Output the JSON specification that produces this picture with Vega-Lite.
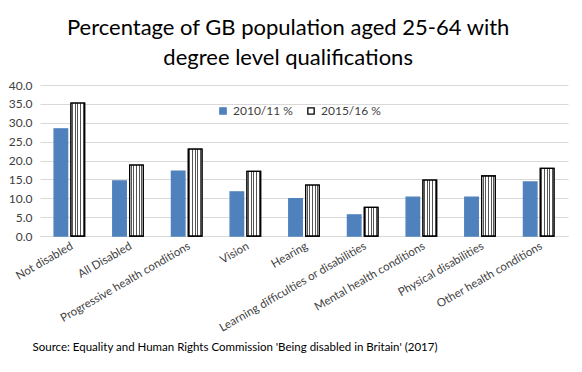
{
  "$schema": "https://vega.github.io/schema/vega-lite/v6.json",
  "autosize": "none",
  "width": 528,
  "height": 151,
  "padding": {"left": 40, "top": 85, "right": 14, "bottom": 136},
  "background": "white",
  "config": {
    "font": "Lato",
    "view": {"stroke": null}
  },
  "title": {
    "text": ["Percentage of GB population aged 25-64 with", "degree level qualifications"],
    "font": "Lato",
    "fontSize": 22,
    "fontWeight": "normal",
    "color": "black",
    "anchor": "middle",
    "frame": "bounds",
    "lineHeight": 30,
    "offset": 9
  },
  "data": {
    "values": [
      {"cat": "Not disabled", "year": "2010/11 %", "v": 28.4},
      {"cat": "Not disabled", "year": "2015/16 %", "v": 35.2},
      {"cat": "All Disabled", "year": "2010/11 %", "v": 14.6},
      {"cat": "All Disabled", "year": "2015/16 %", "v": 18.8},
      {"cat": "Progressive health conditions", "year": "2010/11 %", "v": 17.2},
      {"cat": "Progressive health conditions", "year": "2015/16 %", "v": 23.0},
      {"cat": "Vision", "year": "2010/11 %", "v": 11.7},
      {"cat": "Vision", "year": "2015/16 %", "v": 17.1},
      {"cat": "Hearing", "year": "2010/11 %", "v": 9.9},
      {"cat": "Hearing", "year": "2015/16 %", "v": 13.5},
      {"cat": "Learning difficulties or disabilities", "year": "2010/11 %", "v": 5.6},
      {"cat": "Learning difficulties or disabilities", "year": "2015/16 %", "v": 7.6},
      {"cat": "Mental health conditions", "year": "2010/11 %", "v": 10.3},
      {"cat": "Mental health conditions", "year": "2015/16 %", "v": 14.8},
      {"cat": "Physical disabilities", "year": "2010/11 %", "v": 10.3},
      {"cat": "Physical disabilities", "year": "2015/16 %", "v": 15.9},
      {"cat": "Other health conditions", "year": "2010/11 %", "v": 14.3},
      {"cat": "Other health conditions", "year": "2015/16 %", "v": 17.9}
    ]
  },
  "encoding": {
    "x": {
      "field": "cat",
      "type": "nominal",
      "sort": null,
      "scale": {"paddingInner": 0.48, "paddingOuter": 0.24},
      "axis": {
        "title": "Source: Equality and Human Rights Commission 'Being disabled in Britain' (2017)",
        "titleFont": "Lato",
        "titleFontSize": 11.5,
        "titleFontWeight": "normal",
        "titleColor": "black",
        "titleAnchor": "start",
        "titleAlign": "left",
        "titleBaseline": "top",
        "titleX": -8,
        "titleY": 105,
        "labelAngle": -30,
        "labelFontSize": 11.5,
        "labelColor": "#404040",
        "labelPadding": 4,
        "labelLimit": 400,
        "ticks": false,
        "domainColor": "#d9d9d9",
        "domainWidth": 1,
        "grid": false
      }
    },
    "xOffset": {
      "field": "year",
      "type": "nominal",
      "scale": {"paddingInner": 0.2}
    },
    "y": {
      "field": "v",
      "type": "quantitative",
      "scale": {"domain": [0, 40], "nice": false},
      "axis": {
        "title": null,
        "values": [0, 5, 10, 15, 20, 25, 30, 35, 40],
        "format": ".1f",
        "labelFontSize": 12,
        "labelColor": "#404040",
        "labelPadding": 8,
        "ticks": false,
        "domain": false,
        "gridColor": "#d9d9d9",
        "gridWidth": 1
      }
    }
  },
  "layer": [
    {
      "mark": {"type": "bar", "strokeWidth": 1.3},
      "encoding": {
        "color": {
          "field": "year",
          "type": "nominal",
          "scale": {"range": ["#4f81bd", "white"]},
          "legend": {
            "title": null,
            "orient": "none",
            "direction": "horizontal",
            "legendX": 177,
            "legendY": 20,
            "symbolType": "square",
            "symbolSize": 40,
            "symbolStrokeWidth": 1.3,
            "labelFontSize": 12,
            "labelColor": "#404040",
            "labelFont": "Lato",
            "columnPadding": 12,
            "labelOffset": 4
          }
        },
        "stroke": {
          "field": "year",
          "type": "nominal",
          "scale": {"range": ["#4f81bd", "black"]},
          "legend": {
            "title": null,
            "orient": "none",
            "direction": "horizontal",
            "legendX": 177,
            "legendY": 20,
            "symbolType": "square",
            "symbolSize": 40,
            "symbolStrokeWidth": 1.3,
            "labelFontSize": 12,
            "labelColor": "#404040",
            "labelFont": "Lato",
            "columnPadding": 12,
            "labelOffset": 4
          }
        }
      }
    },
    {
      "transform": [{"filter": "datum.year === '2015/16 %'"}],
      "mark": {
        "type": "bar",
        "stroke": "black",
        "strokeWidth": 1.3,
        "fill": {
          "gradient": "linear",
          "x1": 0, "y1": 0, "x2": 1, "y2": 0,
          "stops": [
            {"offset": 0.0, "color": "white"},
            {"offset": 0.07, "color": "white"},
            {"offset": 0.07, "color": "#555555"},
            {"offset": 0.14, "color": "#555555"},
            {"offset": 0.14, "color": "white"},
            {"offset": 0.27, "color": "white"},
            {"offset": 0.27, "color": "#555555"},
            {"offset": 0.34, "color": "#555555"},
            {"offset": 0.34, "color": "white"},
            {"offset": 0.47, "color": "white"},
            {"offset": 0.47, "color": "#555555"},
            {"offset": 0.54, "color": "#555555"},
            {"offset": 0.54, "color": "white"},
            {"offset": 0.67, "color": "white"},
            {"offset": 0.67, "color": "#555555"},
            {"offset": 0.74, "color": "#555555"},
            {"offset": 0.74, "color": "white"},
            {"offset": 0.87, "color": "white"},
            {"offset": 0.87, "color": "#555555"},
            {"offset": 0.94, "color": "#555555"},
            {"offset": 0.94, "color": "white"},
            {"offset": 1.0, "color": "white"}
          ]
        }
      },
      "encoding": {}
    }
  ]
}
